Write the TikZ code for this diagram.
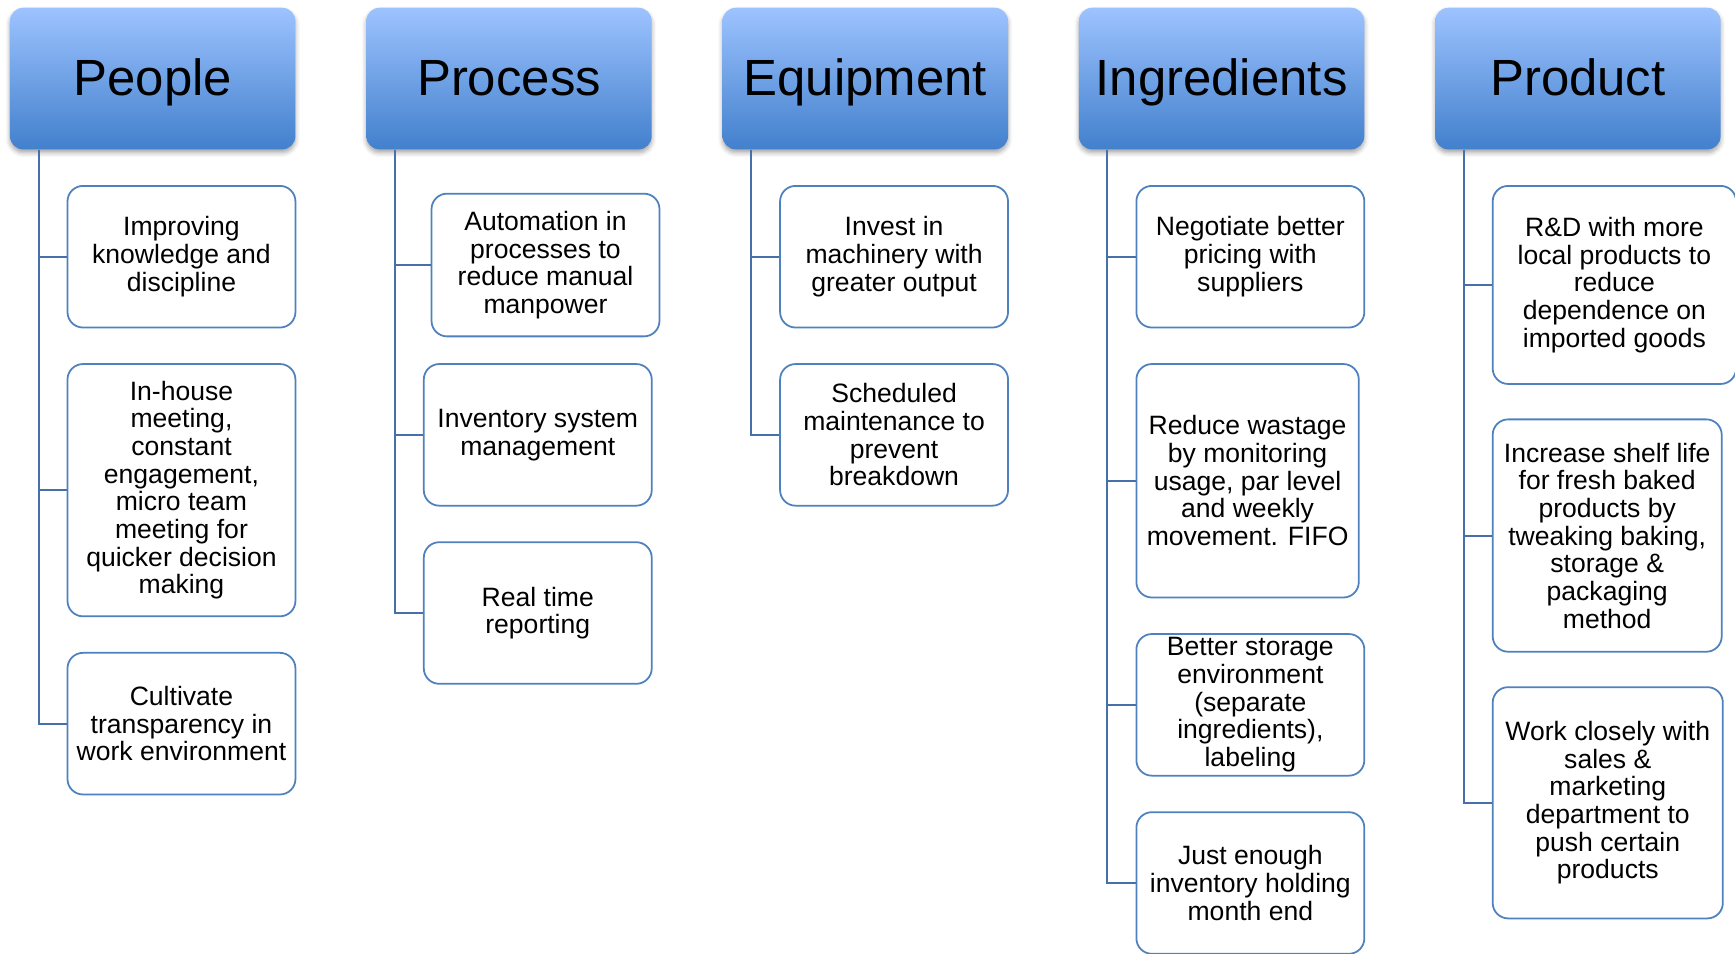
\documentclass[tikz,border=0pt]{standalone}
\usepackage{fontspec}
\setmainfont{Liberation Sans}
\usetikzlibrary{shadows.blur}
\definecolor{hdrtop}{RGB}{157,195,255}
\definecolor{hdrbot}{RGB}{66,128,205}
\definecolor{boxline}{RGB}{79,129,189}
\definecolor{connline}{RGB}{70,112,170}
\tikzset{
  hdr/.style={rectangle, rounded corners=12pt, minimum width=258pt, minimum height=128pt,
    top color=hdrtop, bottom color=hdrbot, draw=none, inner sep=0pt,
    text height=32pt, text depth=2pt,
    font=\fontsize{46}{50}\selectfont,
    blur shadow={shadow xshift=0pt, shadow yshift=-3pt, shadow blur radius=4pt, shadow opacity=35}},
  cbox/.style={rectangle, rounded corners=14pt, draw=boxline, line width=1.6pt, fill=white,
    align=center, font=\fontsize{24}{25}\selectfont, inner sep=0pt, minimum width=206pt},
  conn/.style={draw=connline, line width=1.8pt}
}
\begin{document}
\begin{tikzpicture}[x=1pt,y=-1pt]
\useasboundingbox (0,0) rectangle (1568,862);
\clip (0,0) rectangle (1568,862);
% headers
\node[hdr] (hP) at (138,71) {People};
\node[hdr] (hR) at (460,71) {Process};
\node[hdr] (hE) at (782,71) {Equipment};
\node[hdr] (hI) at (1104,71) {Ingredients};
\node[hdr] (hD) at (1426,71) {Product};
\coordinate (tP) at ([xshift=26pt]hP.south west);
\coordinate (tR) at ([xshift=26pt]hR.south west);
\coordinate (tE) at ([xshift=26pt]hE.south west);
\coordinate (tI) at ([xshift=26pt]hI.south west);
\coordinate (tD) at ([xshift=26pt]hD.south west);
% People
\node[cbox, minimum height=128pt] (p1) at (164,232) {Improving\\knowledge and\\discipline};
\node[cbox, minimum height=228pt] (p2) at (164,443) {In-house\\meeting,\\constant\\engagement,\\micro team\\meeting for\\quicker decision\\making};
\node[cbox, minimum height=128pt] (p3) at (164,654) {Cultivate\\transparency in\\work environment};
% Process
\node[cbox, minimum height=129pt] (r1) at (493,239.5) {Automation in\\processes to\\reduce manual\\manpower};
\node[cbox, minimum height=128pt] (r2) at (486,393) {Inventory system\\management};
\node[cbox, minimum height=128pt] (r3) at (486,554) {Real time\\reporting};
% Equipment
\node[cbox, minimum height=128pt] (e1) at (808,232) {Invest in\\machinery with\\greater output};
\node[cbox, minimum height=128pt] (e2) at (808,393) {Scheduled\\maintenance to\\prevent\\breakdown};
% Ingredients
\node[cbox, minimum height=128pt] (i1) at (1130,232) {Negotiate better\\pricing with\\suppliers};
\node[cbox, minimum height=211pt, minimum width=201pt] (i2) at (1127.5,434.5) {Reduce wastage\\by monitoring\\usage, par level\\and weekly\\movement. FIFO};
\node[cbox, minimum height=128pt] (i3) at (1130,637) {Better storage\\environment\\(separate\\ingredients),\\labeling};
\node[cbox, minimum height=128pt] (i4) at (1130,798) {Just enough\\inventory holding\\month end};
% Product
\node[cbox, minimum height=179pt, minimum width=220pt] (d1) at (1459,257.5) {R\&D with more\\local products to\\reduce\\dependence on\\imported goods};
\node[cbox, minimum height=210pt, minimum width=207pt] (d2) at (1452.5,484) {Increase shelf life\\for fresh baked\\products by\\tweaking baking,\\storage \&\\packaging\\method};
\node[cbox, minimum height=209pt, minimum width=208pt] (d3) at (1453,725.5) {Work closely with\\sales \&\\marketing\\department to\\push certain\\products};
% connectors
\foreach \c in {p1,p2,p3} \draw[conn] (tP) |- (\c.west);
\foreach \c in {r1,r2,r3} \draw[conn] (tR) |- (\c.west);
\foreach \c in {e1,e2} \draw[conn] (tE) |- (\c.west);
\foreach \c in {i1,i2,i3,i4} \draw[conn] (tI) |- (\c.west);
\foreach \c in {d1,d2,d3} \draw[conn] (tD) |- (\c.west);
\end{tikzpicture}
\end{document}
